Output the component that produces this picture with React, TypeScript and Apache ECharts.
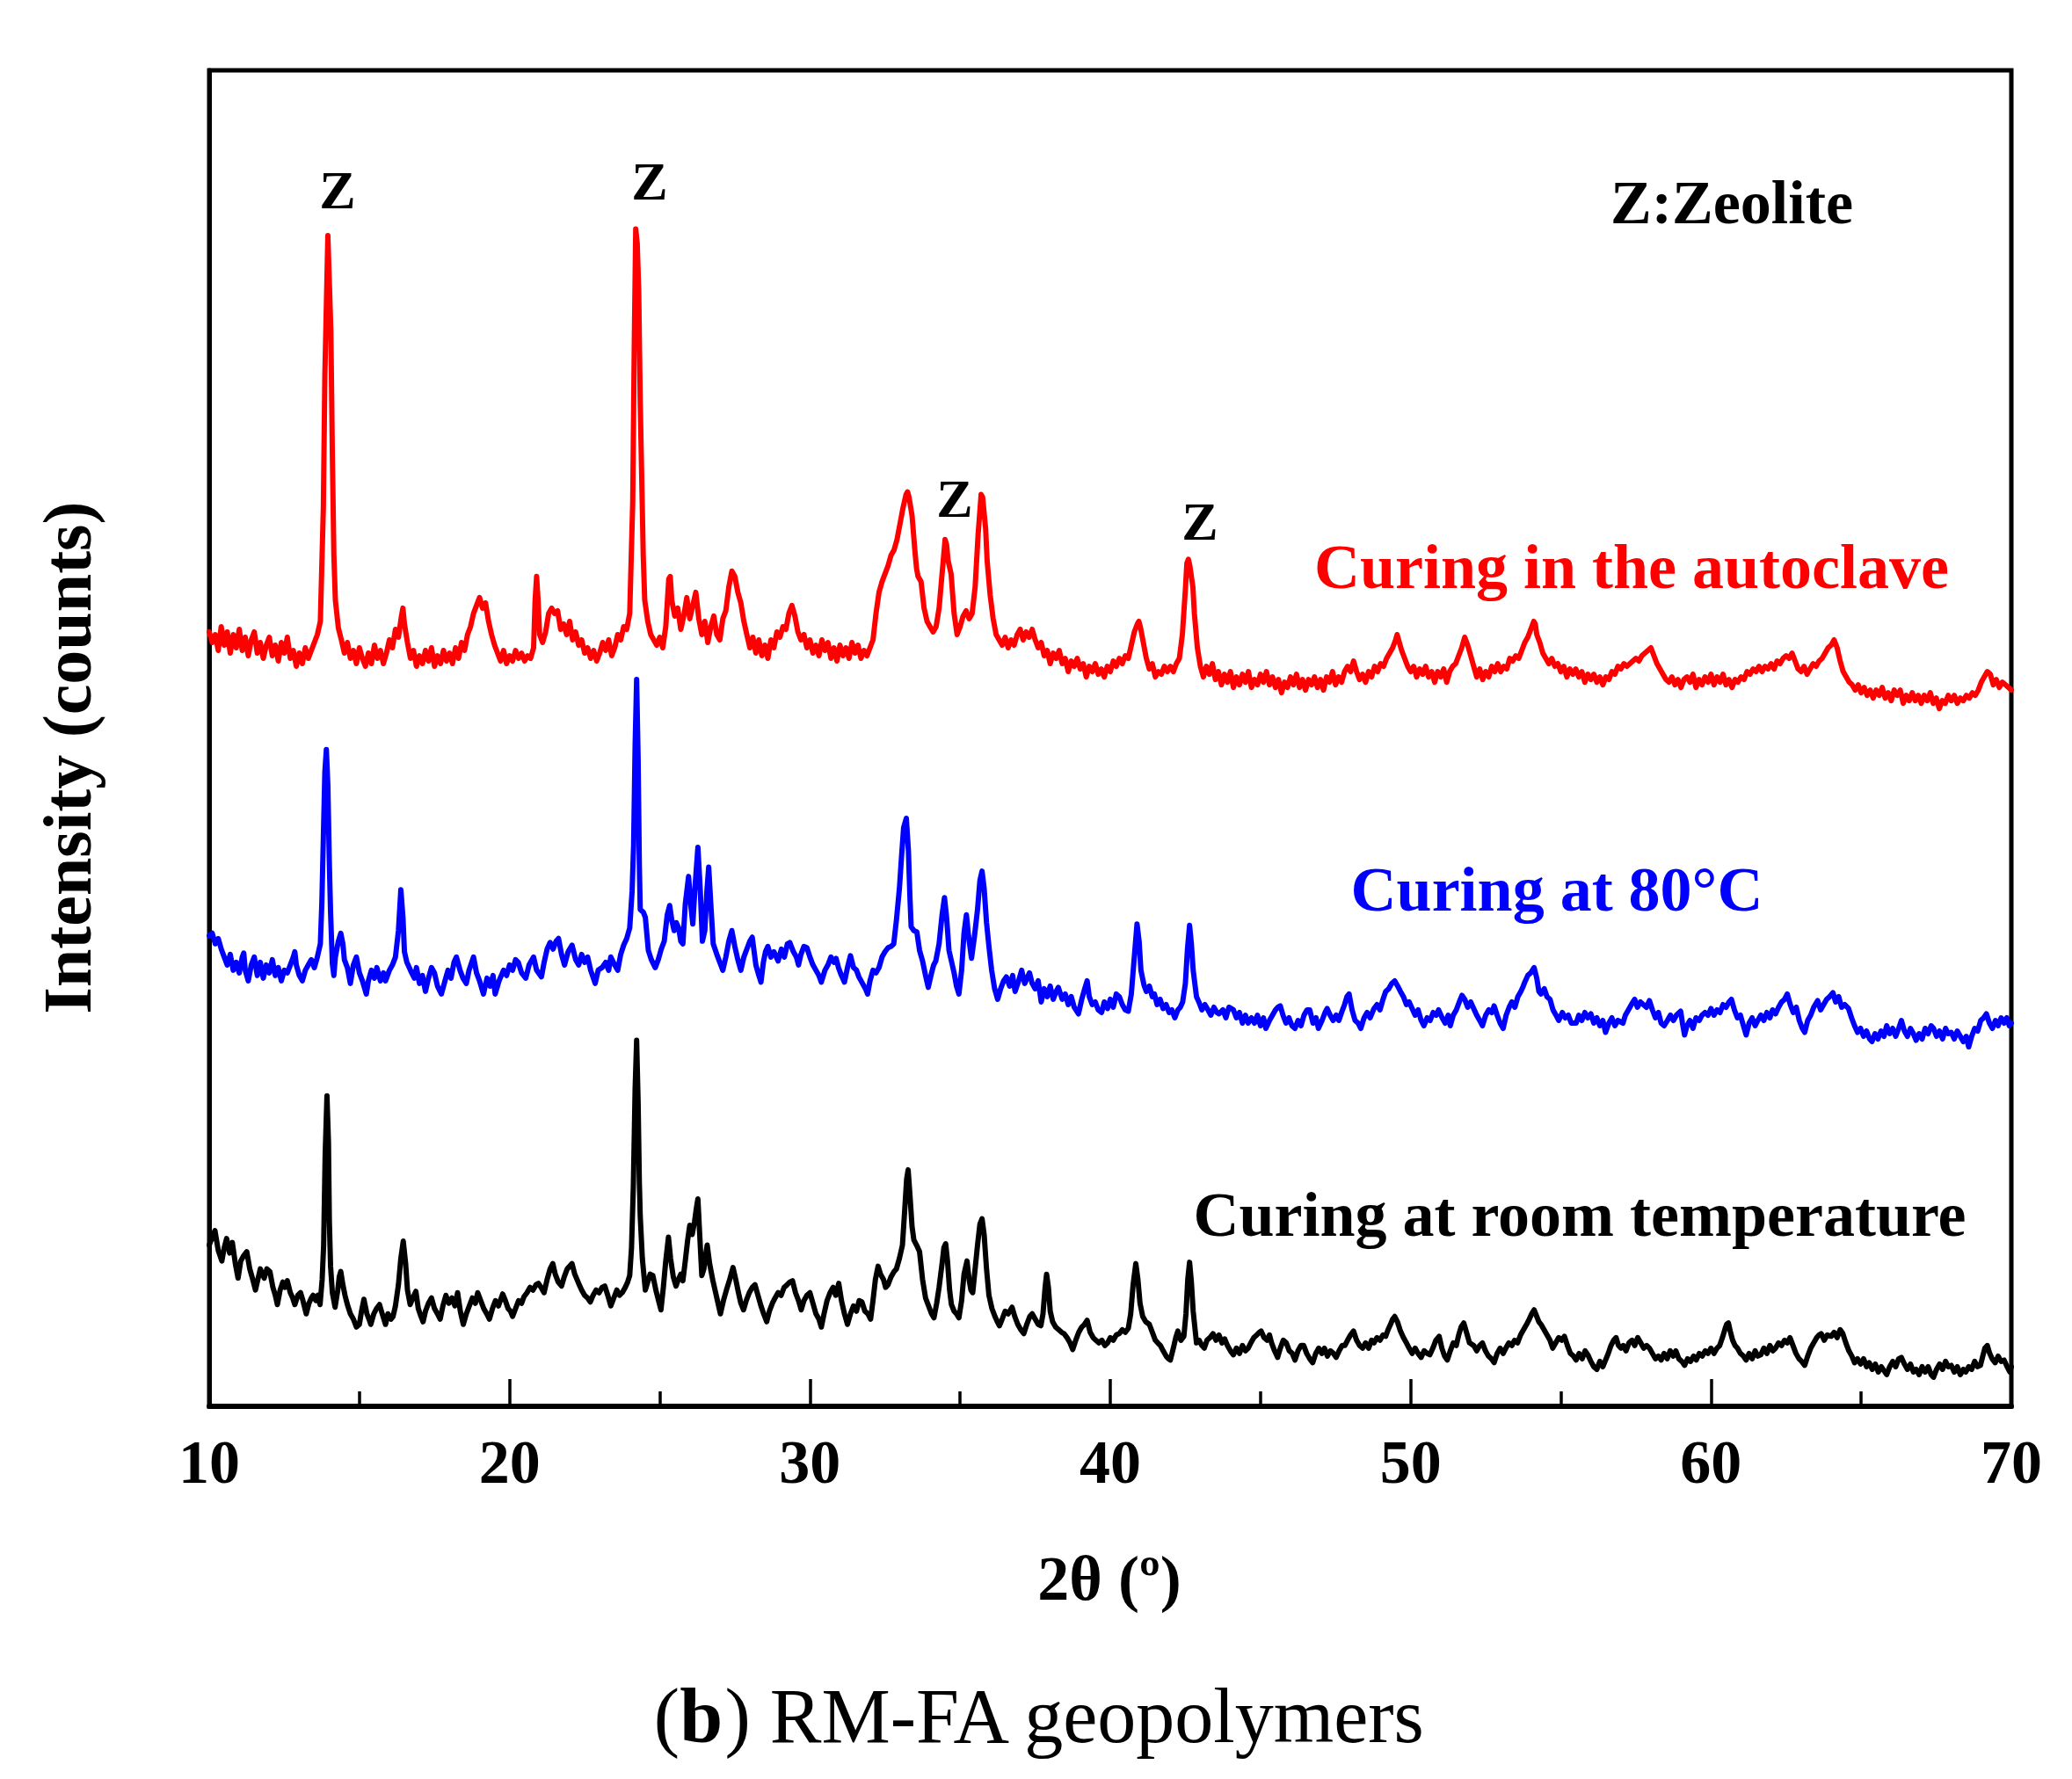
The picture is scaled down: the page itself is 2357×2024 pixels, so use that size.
import React, { useEffect, useRef } from "react";
import * as echarts from "echarts";

// 2θ (degrees) vs intensity (arbitrary units, traces stacked with offsets as in the figure)
const autoclave: [number, number][] = [
  [10.0,586],[10.1,578],[10.2,584],[10.3,572],[10.4,590],[10.5,576],[10.6,586],[10.7,570],[10.8,584],[10.9,574],
  [11.0,588],[11.1,572],[11.2,582],[11.3,568],[11.4,580],[11.5,586],[11.6,570],[11.7,578],[11.8,566],[11.9,576],
  [12.0,582],[12.1,568],[12.2,576],[12.3,564],[12.4,578],[12.5,570],[12.6,582],[12.7,566],[12.8,572],[12.9,560],
  [13.0,570],[13.1,562],[13.2,574],[13.3,566],[13.4,572],[13.5,578],[13.6,584],[13.7,594],[13.8,680],[13.85,780],
  [13.95,886],[14.05,814],[14.1,720],[14.15,644],[14.2,610],[14.3,589],[14.4,580],[14.5,570],[14.6,578],[14.7,566],
  [14.8,572],[14.9,562],[15.0,574],[15.1,566],[15.2,560],[15.3,570],[15.4,562],[15.5,576],[15.6,566],[15.7,572],
  [15.8,562],[15.9,570],[16.0,580],[16.1,574],[16.2,588],[16.3,582],[16.4,598],[16.45,604],[16.5,592],[16.6,578],
  [16.7,566],[16.8,572],[16.9,560],[17.0,568],[17.1,562],[17.2,572],[17.3,564],[17.4,574],[17.5,560],[17.6,568],
  [17.7,562],[17.8,572],[17.9,564],[18.0,570],[18.1,562],[18.2,574],[18.3,566],[18.4,578],[18.5,572],[18.6,584],
  [18.7,590],[18.8,600],[18.9,606],[19.0,612],[19.1,604],[19.2,608],[19.3,594],[19.4,584],[19.5,576],[19.6,570],
  [19.7,564],[19.8,572],[19.9,562],[20.0,568],[20.1,564],[20.2,572],[20.3,566],[20.4,570],[20.5,564],[20.6,568],
  [20.7,566],[20.8,574],[20.85,610],[20.9,628],[20.95,610],[21.0,584],[21.1,578],[21.2,586],[21.3,600],[21.4,604],
  [21.5,600],[21.6,602],[21.7,588],[21.8,592],[21.9,584],[22.0,594],[22.1,580],[22.2,586],[22.3,576],[22.4,580],
  [22.5,570],[22.6,574],[22.7,566],[22.8,572],[22.9,564],[23.0,570],[23.1,578],[23.2,572],[23.3,580],[23.4,568],
  [23.5,574],[23.6,584],[23.7,580],[23.8,590],[23.9,588],[24.0,600],[24.1,684],[24.15,800],[24.2,891],[24.25,880],
  [24.3,844],[24.35,760],[24.45,644],[24.5,610],[24.6,594],[24.7,584],[24.8,580],[24.9,576],[25.0,582],[25.1,574],
  [25.2,590],[25.3,626],[25.35,628],[25.4,610],[25.5,598],[25.6,604],[25.7,588],[25.8,598],[25.9,612],[26.0,596],
  [26.1,606],[26.2,616],[26.3,596],[26.4,584],[26.5,594],[26.6,578],[26.7,590],[26.8,598],[26.9,584],[27.0,580],
  [27.1,596],[27.2,602],[27.3,620],[27.4,632],[27.5,628],[27.6,616],[27.7,608],[27.8,594],[27.9,584],[28.0,574],
  [28.1,582],[28.2,570],[28.3,580],[28.4,568],[28.5,576],[28.6,566],[28.7,580],[28.8,574],[28.9,586],[29.0,582],
  [29.1,590],[29.2,588],[29.3,600],[29.4,606],[29.5,598],[29.6,586],[29.7,580],[29.8,584],[29.9,574],[30.0,580],
  [30.1,570],[30.2,576],[30.3,568],[30.4,580],[30.5,572],[30.6,578],[30.7,566],[30.8,574],[30.9,564],[31.0,576],
  [31.1,568],[31.2,574],[31.3,566],[31.4,578],[31.5,570],[31.6,576],[31.7,566],[31.8,572],[31.9,568],[32.0,574],
  [32.1,580],[32.2,600],[32.3,616],[32.4,624],[32.5,630],[32.6,636],[32.7,644],[32.8,648],[32.9,656],[33.0,668],
  [33.1,680],[33.2,690],[33.25,692],[33.3,688],[33.4,674],[33.5,646],[33.55,634],[33.6,628],[33.7,624],[33.8,604],
  [33.9,594],[34.0,590],[34.1,586],[34.2,590],[34.3,604],[34.4,630],[34.5,656],[34.55,652],[34.6,640],[34.7,630],
  [34.8,600],[34.9,584],[35.0,590],[35.1,598],[35.2,602],[35.3,596],[35.4,600],[35.5,620],[35.6,660],[35.7,690],
  [35.75,688],[35.85,664],[35.9,640],[36.0,614],[36.1,596],[36.2,584],[36.3,580],[36.4,576],[36.5,582],[36.6,574],
  [36.7,580],[36.8,576],[36.9,584],[37.0,588],[37.1,580],[37.2,586],[37.3,582],[37.4,588],[37.5,580],[37.6,574],
  [37.7,578],[37.8,568],[37.9,572],[38.0,562],[38.1,570],[38.2,566],[38.3,572],[38.4,562],[38.5,566],[38.6,556],
  [38.7,564],[38.8,560],[38.9,566],[39.0,558],[39.1,562],[39.2,552],[39.3,560],[39.4,556],[39.5,562],[39.6,554],
  [39.7,558],[39.8,552],[39.9,560],[40.0,556],[40.1,564],[40.2,560],[40.3,566],[40.4,562],[40.5,568],[40.6,566],
  [40.7,576],[40.8,586],[40.9,592],[40.95,594],[41.0,590],[41.1,578],[41.2,566],[41.3,558],[41.4,562],[41.5,552],
  [41.6,556],[41.7,554],[41.8,560],[41.9,556],[42.0,560],[42.1,556],[42.2,562],[42.3,566],[42.4,584],[42.5,618],
  [42.55,638],[42.6,641],[42.65,636],[42.75,620],[42.8,600],[42.9,574],[43.0,560],[43.1,552],[43.2,560],[43.3,554],
  [43.4,562],[43.5,550],[43.6,556],[43.7,546],[43.8,554],[43.9,548],[44.0,556],[44.1,544],[44.2,552],[44.3,546],
  [44.4,554],[44.5,548],[44.6,556],[44.7,544],[44.8,550],[44.9,546],[45.0,554],[45.1,548],[45.2,556],[45.3,546],
  [45.4,552],[45.5,544],[45.6,550],[45.7,540],[45.8,548],[45.9,544],[46.0,552],[46.1,546],[46.2,554],[46.3,544],
  [46.4,550],[46.5,542],[46.6,550],[46.7,546],[46.8,552],[46.9,544],[47.0,550],[47.1,542],[47.2,552],[47.3,548],
  [47.4,556],[47.5,546],[47.6,552],[47.7,548],[47.8,556],[47.9,560],[48.0,556],[48.1,564],[48.2,556],[48.3,550],
  [48.4,554],[48.5,548],[48.6,556],[48.7,552],[48.8,560],[48.9,556],[49.0,562],[49.1,560],[49.2,566],[49.3,570],
  [49.4,574],[49.5,580],[49.55,584],[49.6,580],[49.7,572],[49.8,566],[49.9,560],[50.0,556],[50.1,560],[50.2,552],
  [50.3,558],[50.4,554],[50.5,560],[50.6,552],[50.7,556],[50.8,548],[50.9,556],[51.0,552],[51.1,558],[51.2,548],
  [51.3,556],[51.4,560],[51.5,562],[51.6,568],[51.7,574],[51.8,582],[51.9,576],[52.0,568],[52.1,560],[52.2,552],
  [52.3,558],[52.4,550],[52.5,556],[52.6,552],[52.7,560],[52.8,556],[52.9,562],[53.0,556],[53.1,560],[53.2,558],
  [53.3,566],[53.4,564],[53.5,568],[53.6,566],[53.7,572],[53.8,578],[53.9,582],[54.0,588],[54.1,594],[54.15,592],
  [54.2,584],[54.3,578],[54.4,570],[54.5,566],[54.6,562],[54.7,566],[54.8,560],[54.9,562],[55.0,556],[55.1,560],
  [55.2,552],[55.3,558],[55.4,554],[55.5,558],[55.6,552],[55.7,556],[55.8,548],[55.9,554],[56.0,550],[56.1,554],
  [56.2,548],[56.3,552],[56.4,546],[56.5,552],[56.6,550],[56.7,556],[56.8,554],[56.9,560],[57.0,558],[57.1,562],
  [57.2,560],[57.3,562],[57.4,564],[57.5,566],[57.6,564],[57.7,568],[57.8,570],[57.9,572],[58.0,574],[58.1,568],
  [58.2,562],[58.3,558],[58.4,554],[58.5,550],[58.6,548],[58.7,552],[58.8,546],[58.9,550],[59.0,544],[59.1,550],
  [59.2,552],[59.3,548],[59.4,554],[59.5,544],[59.6,550],[59.7,546],[59.8,552],[59.9,548],[60.0,554],[60.1,546],
  [60.2,552],[60.3,548],[60.4,554],[60.5,546],[60.6,550],[60.7,544],[60.8,550],[60.9,548],[61.0,552],[61.1,550],
  [61.2,556],[61.3,554],[61.4,558],[61.5,556],[61.6,560],[61.7,556],[61.8,560],[61.9,558],[62.0,562],[62.1,558],
  [62.2,564],[62.3,562],[62.4,566],[62.5,568],[62.6,566],[62.7,570],[62.8,564],[62.9,558],[63.0,556],[63.1,560],
  [63.2,554],[63.3,558],[63.4,562],[63.5,560],[63.6,564],[63.7,566],[63.8,570],[63.9,574],[64.0,576],[64.1,580],
  [64.2,574],[64.3,564],[64.4,556],[64.5,552],[64.6,548],[64.7,546],[64.8,542],[64.9,546],[65.0,540],[65.1,544],
  [65.2,538],[65.3,542],[65.4,536],[65.5,542],[65.6,538],[65.7,544],[65.8,536],[65.9,540],[66.0,534],[66.1,542],
  [66.2,538],[66.3,542],[66.4,532],[66.5,538],[66.6,534],[66.7,540],[66.8,534],[66.9,538],[67.0,532],[67.1,538],
  [67.2,534],[67.3,540],[67.4,532],[67.5,536],[67.6,528],[67.7,534],[67.8,532],[67.9,538],[68.0,534],[68.1,538],
  [68.2,532],[68.3,536],[68.4,534],[68.5,538],[68.6,536],[68.7,540],[68.8,538],[68.9,542],[69.0,548],[69.1,552],
  [69.2,556],[69.3,554],[69.4,546],[69.5,550],[69.6,544],[69.7,548],[69.8,546],[69.9,544],[70.0,542],
];

const cured80: [number, number][] = [
  [10.0,356],[10.1,358],[10.2,350],[10.3,354],[10.4,346],[10.5,340],[10.6,334],[10.7,342],[10.8,330],[10.9,336],
  [11.0,328],[11.1,340],[11.15,343],[11.2,330],[11.3,322],[11.4,334],[11.5,340],[11.6,326],[11.7,336],[11.8,324],
  [11.9,334],[12.0,328],[12.1,338],[12.2,326],[12.3,332],[12.4,322],[12.5,330],[12.6,328],[12.7,334],[12.8,340],
  [12.85,344],[12.9,334],[13.0,326],[13.1,322],[13.2,330],[13.3,334],[13.4,338],[13.5,332],[13.6,340],[13.7,350],
  [13.75,381],[13.8,430],[13.85,480],[13.9,497],[13.95,470],[14.0,410],[14.04,374],[14.1,335],[14.15,326],[14.2,340],
  [14.3,352],[14.38,358],[14.45,350],[14.5,338],[14.6,332],[14.7,320],[14.8,334],[14.9,340],[15.0,328],[15.1,322],
  [15.23,312],[15.3,322],[15.4,330],[15.5,324],[15.58,332],[15.7,322],[15.8,328],[15.87,322],[16.0,330],[16.1,334],
  [16.2,340],[16.3,360],[16.38,391],[16.45,370],[16.5,344],[16.58,336],[16.7,330],[16.83,324],[16.9,332],[17.0,320],
  [17.1,326],[17.2,314],[17.3,324],[17.4,332],[17.5,328],[17.6,318],[17.73,312],[17.85,322],[17.95,330],[18.05,324],
  [18.15,336],[18.23,340],[18.35,330],[18.45,324],[18.56,320],[18.65,330],[18.8,340],[18.9,328],[19.0,322],[19.13,312],
  [19.25,324],[19.35,318],[19.45,326],[19.52,312],[19.65,322],[19.8,330],[19.9,326],[20.0,334],[20.1,330],[20.2,338],
  [20.29,336],[20.4,328],[20.54,324],[20.65,334],[20.8,340],[20.9,330],[21.06,325],[21.15,336],[21.25,346],[21.35,351],
  [21.45,346],[21.55,352],[21.63,354],[21.73,342],[21.83,334],[21.95,344],[22.08,349],[22.2,338],[22.3,334],[22.4,342],
  [22.5,336],[22.6,340],[22.7,330],[22.85,320],[22.95,330],[23.08,332],[23.2,336],[23.3,330],[23.37,340],[23.5,334],
  [23.6,330],[23.7,342],[23.8,349],[23.9,354],[24.0,362],[24.08,390],[24.13,425],[24.18,500],[24.23,550],[24.28,490],
  [24.32,410],[24.35,376],[24.45,374],[24.52,370],[24.62,345],[24.72,338],[24.85,332],[24.95,338],[25.05,346],[25.15,352],
  [25.25,372],[25.33,379],[25.4,368],[25.48,360],[25.55,366],[25.63,362],[25.7,352],[25.77,350],[25.85,380],[25.96,401],
  [26.03,380],[26.1,365],[26.18,395],[26.27,423],[26.35,390],[26.42,352],[26.5,360],[26.57,390],[26.63,408],[26.7,380],
  [26.78,350],[26.9,342],[27.0,336],[27.1,330],[27.2,340],[27.3,352],[27.4,360],[27.5,348],[27.6,338],[27.7,330],
  [27.8,340],[27.9,346],[28.0,352],[28.08,355],[28.2,334],[28.3,326],[28.37,321],[28.45,336],[28.52,344],[28.6,348],
  [28.7,340],[28.8,344],[28.94,337],[29.05,346],[29.15,340],[29.25,350],[29.33,351],[29.45,344],[29.55,340],[29.62,334],
  [29.7,342],[29.8,348],[29.9,347],[30.0,340],[30.1,334],[30.2,330],[30.3,326],[30.38,321],[30.5,330],[30.6,334],
  [30.7,340],[30.8,336],[30.87,339],[30.95,332],[31.05,326],[31.15,321],[31.25,332],[31.35,341],[31.45,332],[31.55,330],
  [31.63,325],[31.75,320],[31.85,316],[31.92,312],[32.0,322],[32.1,330],[32.2,328],[32.3,332],[32.4,340],[32.5,344],
  [32.6,347],[32.7,348],[32.79,350],[32.88,368],[32.98,392],[33.05,416],[33.12,438],[33.21,445],[33.28,420],[33.33,385],
  [33.37,363],[33.46,360],[33.56,359],[33.65,345],[33.75,337],[33.85,326],[33.94,317],[34.05,328],[34.12,334],[34.19,337],
  [34.3,350],[34.4,372],[34.48,385],[34.55,370],[34.63,345],[34.71,337],[34.8,328],[34.88,318],[34.96,312],[35.05,330],
  [35.13,358],[35.21,372],[35.28,356],[35.38,339],[35.48,356],[35.58,376],[35.66,398],[35.73,405],[35.8,392],[35.88,366],
  [35.96,348],[36.05,330],[36.15,316],[36.25,308],[36.35,316],[36.45,322],[36.54,325],[36.65,318],[36.75,326],[36.83,314],
  [36.95,322],[37.05,330],[37.15,320],[37.31,328],[37.4,320],[37.5,316],[37.6,322],[37.7,306],[37.8,316],[37.9,310],
  [38.0,318],[38.1,308],[38.2,314],[38.27,317],[38.4,308],[38.5,312],[38.6,304],[38.7,310],[38.8,302],[38.94,297],
  [39.05,308],[39.15,316],[39.23,322],[39.3,310],[39.4,304],[39.5,306],[39.6,300],[39.71,298],[39.8,306],[39.91,301],
  [40.0,308],[40.1,302],[40.2,312],[40.3,310],[40.4,304],[40.5,300],[40.6,299],[40.7,312],[40.8,340],[40.89,365],
  [40.96,352],[41.02,330],[41.12,319],[41.2,314],[41.3,318],[41.4,310],[41.47,312],[41.56,304],[41.66,308],[41.76,301],
  [41.86,304],[41.96,298],[42.05,300],[42.15,294],[42.25,300],[42.33,302],[42.41,306],[42.5,320],[42.57,346],[42.64,364],
  [42.7,350],[42.76,330],[42.87,310],[42.95,306],[43.05,300],[43.15,304],[43.23,301],[43.35,296],[43.45,302],[43.55,298],
  [43.62,297],[43.75,300],[43.85,294],[43.95,302],[44.1,300],[44.2,294],[44.3,298],[44.4,290],[44.5,296],[44.59,290],
  [44.7,294],[44.8,290],[44.9,296],[45.0,288],[45.1,294],[45.18,286],[45.3,292],[45.4,296],[45.5,300],[45.58,302],
  [45.66,303],[45.75,296],[45.85,290],[45.95,294],[46.05,288],[46.15,286],[46.25,292],[46.35,288],[46.45,296],[46.55,300],
  [46.64,300],[46.75,290],[46.85,294],[46.93,286],[47.05,292],[47.15,298],[47.22,301],[47.32,296],[47.42,292],[47.52,296],
  [47.61,292],[47.7,298],[47.8,304],[47.88,310],[47.95,312],[48.05,300],[48.15,292],[48.25,290],[48.34,286],[48.45,294],
  [48.55,298],[48.65,294],[48.78,301],[48.88,304],[48.98,300],[49.08,308],[49.17,314],[49.27,316],[49.37,320],[49.47,322],
  [49.57,318],[49.66,314],[49.76,310],[49.86,304],[49.95,306],[50.05,301],[50.15,296],[50.25,300],[50.35,292],[50.44,288],
  [50.55,294],[50.65,292],[50.75,298],[50.85,296],[50.93,300],[51.05,294],[51.15,290],[51.25,296],[51.32,288],[51.42,296],
  [51.52,300],[51.62,306],[51.71,311],[51.8,308],[51.9,302],[52.0,306],[52.1,301],[52.2,296],[52.3,292],[52.39,288],
  [52.5,296],[52.6,300],[52.7,298],[52.78,303],[52.88,296],[52.98,290],[53.08,286],[53.18,296],[53.28,302],[53.37,306],
  [53.47,302],[53.57,310],[53.67,314],[53.75,318],[53.8,321],[53.9,326],[54.0,328],[54.11,332],[54.2,324],[54.27,314],
  [54.34,312],[54.45,316],[54.54,310],[54.64,308],[54.74,300],[54.84,296],[54.93,292],[55.05,298],[55.15,294],[55.25,296],
  [55.35,290],[55.51,290],[55.6,296],[55.7,292],[55.8,298],[55.9,294],[56.0,297],[56.1,290],[56.2,294],[56.3,288],
  [56.4,292],[56.49,283],[56.6,290],[56.7,294],[56.8,288],[56.9,292],[57.07,290],[57.15,296],[57.25,300],[57.35,304],
  [57.46,308],[57.55,302],[57.65,306],[57.75,304],[57.85,302],[57.95,307],[58.05,300],[58.15,294],[58.25,298],[58.34,290],
  [58.44,288],[58.55,292],[58.65,296],[58.75,292],[58.85,296],[58.99,299],[59.05,290],[59.12,281],[59.2,288],[59.3,292],
  [59.4,286],[59.5,294],[59.61,292],[59.7,296],[59.8,298],[59.9,296],[60.0,301],[60.1,296],[60.2,300],[60.3,298],
  [60.4,304],[60.5,302],[60.6,306],[60.68,308],[60.78,300],[60.88,294],[60.98,296],[61.08,288],[61.17,281],[61.27,290],
  [61.37,294],[61.47,288],[61.56,292],[61.66,296],[61.76,292],[61.86,298],[61.96,294],[62.05,300],[62.15,297],[62.25,302],
  [62.35,306],[62.45,308],[62.54,312],[62.64,304],[62.74,298],[62.84,302],[62.94,292],[63.04,286],[63.12,283],[63.22,292],
  [63.32,296],[63.42,302],[63.55,307],[63.65,300],[63.75,304],[63.85,308],[63.95,310],[64.06,313],[64.15,306],[64.25,310],
  [64.35,302],[64.45,304],[64.58,301],[64.68,294],[64.78,288],[64.88,283],[64.98,286],[65.08,280],[65.18,284],[65.28,278],
  [65.36,276],[65.46,282],[65.56,278],[65.66,284],[65.76,280],[65.85,288],[65.95,282],[66.05,286],[66.15,280],[66.25,286],
  [66.34,292],[66.44,284],[66.54,280],[66.64,286],[66.74,282],[66.83,277],[66.93,282],[67.03,278],[67.13,286],[67.23,282],
  [67.33,288],[67.41,286],[67.51,280],[67.61,284],[67.71,278],[67.81,286],[67.9,282],[68.0,283],[68.1,278],[68.2,284],
  [68.3,280],[68.4,276],[68.5,280],[68.58,272],[68.68,280],[68.78,286],[68.88,284],[68.98,292],[69.08,294],[69.17,297],
  [69.27,290],[69.37,286],[69.47,292],[69.56,288],[69.66,294],[69.76,290],[69.85,294],[69.93,288],[70.0,290],
];

const roomTemp: [number, number][] = [
  [10.0,122],[10.1,128],[10.19,133],[10.3,118],[10.42,110],[10.5,120],[10.58,127],[10.68,116],[10.77,124],[10.87,108],
  [10.96,97],[11.05,110],[11.15,114],[11.25,117],[11.35,104],[11.45,96],[11.54,88],[11.62,96],[11.7,104],[11.83,97],
  [11.92,104],[12.02,102],[12.12,90],[12.2,84],[12.27,77],[12.36,88],[12.45,94],[12.52,90],[12.6,95],[12.7,86],
  [12.78,82],[12.85,77],[12.95,84],[13.04,86],[13.12,80],[13.23,70],[13.32,78],[13.4,82],[13.46,84],[13.55,80],
  [13.62,84],[13.69,77],[13.76,96],[13.81,122],[13.86,190],[13.92,235],[13.97,200],[14.0,140],[14.04,106],[14.1,86],
  [14.19,75],[14.28,88],[14.33,98],[14.38,102],[14.45,92],[14.52,84],[14.6,77],[14.7,70],[14.8,66],[14.9,60],
  [15.0,62],[15.07,72],[15.15,81],[15.25,70],[15.32,66],[15.38,62],[15.48,70],[15.57,74],[15.67,77],[15.76,70],
  [15.87,62],[15.95,70],[16.05,66],[16.12,68],[16.2,76],[16.3,92],[16.38,112],[16.46,125],[16.54,108],[16.6,88],
  [16.69,77],[16.78,82],[16.88,87],[16.96,74],[17.05,68],[17.12,64],[17.2,72],[17.3,78],[17.4,82],[17.5,74],
  [17.6,70],[17.69,66],[17.78,76],[17.88,84],[17.98,78],[18.08,82],[18.18,76],[18.27,86],[18.36,72],[18.46,62],
  [18.56,70],[18.66,76],[18.76,82],[18.86,78],[18.94,86],[19.04,80],[19.14,74],[19.24,70],[19.33,66],[19.43,74],
  [19.53,80],[19.63,76],[19.77,85],[19.86,80],[19.95,74],[20.03,72],[20.1,68],[20.2,74],[20.3,80],[20.4,78],
  [20.48,83],[20.58,86],[20.68,90],[20.78,88],[20.88,92],[20.96,93],[21.05,90],[21.15,86],[21.25,96],[21.35,104],
  [21.44,108],[21.52,100],[21.62,94],[21.73,91],[21.82,98],[21.92,104],[22.0,106],[22.08,108],[22.17,100],[22.3,93],
  [22.4,88],[22.5,84],[22.6,82],[22.69,79],[22.78,84],[22.88,88],[22.98,86],[23.08,90],[23.17,91],[23.27,84],
  [23.37,76],[23.47,82],[23.57,88],[23.66,84],[23.75,86],[23.85,90],[23.93,94],[24.0,99],[24.06,120],[24.12,166],
  [24.18,240],[24.23,277],[24.28,230],[24.32,170],[24.35,144],[24.42,112],[24.52,88],[24.6,94],[24.68,100],[24.77,99],
  [24.87,88],[24.96,80],[25.04,73],[25.12,90],[25.2,110],[25.29,128],[25.36,112],[25.45,98],[25.54,91],[25.62,96],
  [25.7,100],[25.77,95],[25.85,110],[25.93,126],[26.0,137],[26.08,130],[26.16,140],[26.22,150],[26.27,157],[26.33,130],
  [26.4,99],[26.47,104],[26.53,115],[26.58,122],[26.66,108],[26.77,95],[26.86,86],[26.94,78],[27.02,70],[27.12,80],
  [27.22,88],[27.33,96],[27.44,105],[27.53,96],[27.62,86],[27.7,78],[27.79,73],[27.88,80],[27.98,86],[28.08,90],
  [28.17,92],[28.27,84],[28.37,76],[28.46,70],[28.56,64],[28.65,72],[28.75,78],[28.84,82],[28.94,86],[29.04,84],
  [29.14,90],[29.24,92],[29.33,94],[29.42,95],[29.52,86],[29.62,80],[29.71,73],[29.8,80],[29.9,84],[30.0,86],
  [30.1,78],[30.2,70],[30.3,66],[30.38,60],[30.47,70],[30.57,80],[30.67,86],[30.77,90],[30.86,84],[30.96,93],
  [31.05,80],[31.15,70],[31.25,62],[31.35,70],[31.45,76],[31.55,72],[31.64,80],[31.73,79],[31.83,72],[31.93,70],
  [32.02,66],[32.1,80],[32.18,96],[32.27,106],[32.35,100],[32.45,96],[32.52,90],[32.6,92],[32.7,98],[32.8,102],
  [32.88,104],[32.98,112],[33.08,122],[33.16,150],[33.22,172],[33.27,179],[33.33,160],[33.4,136],[33.46,126],[33.55,122],
  [33.65,117],[33.75,96],[33.85,82],[33.95,76],[34.05,70],[34.13,67],[34.22,78],[34.3,90],[34.4,108],[34.46,120],
  [34.52,123],[34.58,110],[34.65,88],[34.71,77],[34.8,72],[34.88,70],[34.96,67],[35.05,80],[35.13,100],[35.23,110],
  [35.3,96],[35.36,88],[35.42,86],[35.5,104],[35.58,122],[35.66,138],[35.73,142],[35.8,130],[35.88,104],[35.96,84],
  [36.06,74],[36.16,68],[36.24,64],[36.31,61],[36.4,66],[36.5,72],[36.6,70],[36.73,75],[36.82,68],[36.92,62],
  [37.02,58],[37.12,55],[37.22,62],[37.32,68],[37.4,70],[37.5,66],[37.6,62],[37.69,61],[37.76,70],[37.83,90],
  [37.88,100],[37.94,90],[38.0,72],[38.08,64],[38.18,60],[38.28,58],[38.38,56],[38.46,55],[38.56,52],[38.66,48],
  [38.75,43],[38.85,50],[38.95,56],[39.05,60],[39.14,62],[39.23,65],[39.33,56],[39.43,52],[39.52,50],[39.62,48],
  [39.72,50],[39.82,46],[39.91,48],[40.0,52],[40.1,50],[40.2,54],[40.3,55],[40.4,58],[40.5,56],[40.6,59],
  [40.68,70],[40.76,92],[40.85,108],[40.92,96],[40.99,78],[41.08,68],[41.18,64],[41.3,62],[41.4,56],[41.5,50],
  [41.58,48],[41.67,46],[41.76,42],[41.86,38],[41.94,36],[42.0,35],[42.1,44],[42.18,52],[42.25,57],[42.35,50],
  [42.45,53],[42.52,70],[42.58,96],[42.64,109],[42.7,94],[42.76,72],[42.87,48],[42.96,50],[43.05,46],[43.13,44],
  [43.22,50],[43.32,52],[43.42,55],[43.52,50],[43.62,54],[43.72,48],[43.81,51],[43.9,46],[44.0,42],[44.1,39],
  [44.2,44],[44.3,40],[44.4,46],[44.5,42],[44.59,44],[44.68,48],[44.78,52],[44.88,54],[44.96,56],[45.02,57],
  [45.12,52],[45.22,50],[45.3,54],[45.37,48],[45.47,42],[45.57,37],[45.66,44],[45.76,50],[45.86,48],[45.96,42],
  [46.06,40],[46.15,35],[46.25,42],[46.35,46],[46.44,46],[46.54,40],[46.64,36],[46.74,33],[46.84,40],[46.94,44],
  [47.04,40],[47.13,44],[47.23,38],[47.33,42],[47.43,40],[47.52,37],[47.62,42],[47.72,46],[47.81,46],[47.9,50],
  [48.0,54],[48.1,57],[48.2,50],[48.3,46],[48.4,44],[48.5,48],[48.6,44],[48.7,50],[48.78,48],[48.88,52],
  [48.98,50],[49.08,54],[49.17,53],[49.25,58],[49.33,62],[49.4,66],[49.47,68],[49.56,64],[49.66,57],[49.76,52],
  [49.86,48],[49.95,44],[50.05,40],[50.15,44],[50.25,40],[50.35,37],[50.45,42],[50.55,40],[50.64,39],[50.74,44],
  [50.84,50],[50.95,53],[51.04,44],[51.13,38],[51.22,35],[51.32,42],[51.42,48],[51.52,46],[51.6,54],[51.68,60],
  [51.77,63],[51.86,56],[51.96,48],[52.1,46],[52.2,42],[52.3,46],[52.39,48],[52.49,42],[52.59,38],[52.69,36],
  [52.78,33],[52.88,40],[52.98,44],[53.08,40],[53.17,44],[53.27,48],[53.37,46],[53.46,50],[53.56,48],[53.66,54],
  [53.76,58],[53.86,62],[53.95,66],[54.03,70],[54.11,73],[54.2,68],[54.27,64],[54.34,62],[54.44,58],[54.54,54],
  [54.64,50],[54.73,44],[54.83,48],[54.93,52],[55.03,50],[55.12,53],[55.22,46],[55.32,40],[55.42,38],[55.51,35],
  [55.61,40],[55.71,36],[55.81,42],[55.9,39],[56.0,34],[56.1,30],[56.2,28],[56.3,34],[56.4,30],[56.49,35],
  [56.58,40],[56.67,46],[56.76,50],[56.84,52],[56.92,46],[57.0,44],[57.08,46],[57.17,42],[57.27,48],[57.37,50],
  [57.46,46],[57.56,52],[57.66,48],[57.76,44],[57.86,46],[57.95,44],[58.05,40],[58.15,36],[58.25,38],[58.34,35],
  [58.44,40],[58.54,36],[58.64,42],[58.74,38],[58.83,42],[58.93,36],[59.03,34],[59.12,31],[59.22,36],[59.32,34],
  [59.42,38],[59.51,35],[59.61,40],[59.71,38],[59.81,42],[59.9,40],[60.0,44],[60.1,40],[60.2,44],[60.29,46],
  [60.38,52],[60.46,58],[60.52,62],[60.58,63],[60.65,56],[60.72,50],[60.8,46],[60.88,44],[60.98,40],[61.08,38],
  [61.17,35],[61.27,40],[61.37,36],[61.47,42],[61.56,38],[61.66,39],[61.76,44],[61.86,40],[61.96,46],[62.06,42],
  [62.15,44],[62.25,48],[62.35,46],[62.45,50],[62.54,48],[62.63,52],[62.73,46],[62.83,40],[62.93,36],[63.02,34],
  [63.12,31],[63.22,38],[63.32,44],[63.42,48],[63.52,52],[63.6,54],[63.67,55],[63.77,50],[63.87,54],[64.0,53],
  [64.1,56],[64.2,52],[64.3,58],[64.39,55],[64.49,48],[64.59,42],[64.69,38],[64.78,33],[64.88,36],[64.98,32],
  [65.08,36],[65.18,30],[65.27,33],[65.37,28],[65.47,32],[65.57,26],[65.67,30],[65.76,27],[65.85,24],[65.95,30],
  [66.05,34],[66.15,30],[66.25,36],[66.34,37],[66.44,32],[66.54,28],[66.64,32],[66.74,26],[66.83,28],[66.93,24],
  [67.03,30],[67.13,26],[67.23,30],[67.33,24],[67.41,22],[67.51,28],[67.61,32],[67.71,28],[67.81,34],[67.9,30],
  [68.0,31],[68.1,26],[68.2,30],[68.3,24],[68.4,28],[68.48,26],[68.58,30],[68.68,28],[68.78,34],[68.88,30],
  [68.97,31],[69.05,38],[69.12,44],[69.2,46],[69.28,40],[69.36,36],[69.46,33],[69.56,38],[69.66,34],[69.76,35],
  [69.86,30],[69.95,26],[70.0,30],
];

const xTicks = [10, 20, 30, 40, 50, 60, 70];

const SERIF = "'Liberation Serif', 'Times New Roman', serif";

function txt(text: string, x: number, y: number, fontSize: number, fill: string, extra: any = {}) {
  return {
    type: "text",
    x,
    y,
    silent: true,
    ...extra,
    style: {
      text,
      fontSize,
      fontWeight: "bold",
      fontFamily: SERIF,
      fill,
      align: "center",
      verticalAlign: "middle",
      textAlign: "center",
      textVerticalAlign: "middle",
    },
  };
}

export default function App() {
  const ref = useRef<HTMLDivElement>(null);
  useEffect(() => {
    if (!ref.current) return;
    const chart = echarts.init(ref.current, undefined, { renderer: "svg" });
    const line = (name: string, data: [number, number][], color: string) => ({
      name,
      type: "line",
      data,
      showSymbol: false,
      symbol: "none",
      smooth: false,
      lineStyle: { color, width: 6, join: "round", cap: "round" },
      itemStyle: { color },
    });
    chart.setOption({
      animation: false,
      backgroundColor: "#ffffff",
      grid: {
        left: 238,
        right: 69,
        top: 80,
        bottom: 424,
        show: true,
        borderColor: "#000",
        borderWidth: 5,
        backgroundColor: "transparent",
      },
      xAxis: {
        type: "value",
        min: xTicks[0],
        max: xTicks[xTicks.length - 1],
        interval: 10,
        axisLine: { show: true, onZero: false, lineStyle: { color: "#000", width: 6 } },
        axisTick: { show: true, inside: true, length: 31, lineStyle: { color: "#000", width: 3.5 } },
        minorTick: { show: true, splitNumber: 2, length: 17, lineStyle: { color: "#000", width: 3.5 } },
        splitLine: { show: false },
        axisLabel: {
          show: true,
          margin: 28,
          color: "#000",
          fontSize: 70,
          lineHeight: 70,
          fontWeight: "bold",
          fontFamily: SERIF,
        },
      },
      yAxis: {
        type: "value",
        min: 0,
        max: 1011,
        axisLine: { show: true, lineStyle: { color: "#000", width: 5 } },
        axisTick: { show: false },
        axisLabel: { show: false },
        splitLine: { show: false },
      },
      series: [
        line("Curing in the autoclave", autoclave, "#ff0000"),
        line("Curing at 80°C", cured80, "#0000ff"),
        line("Curing at room temperature", roomTemp, "#000000"),
      ],
      graphic: [
        txt("Z", 384, 216, 62, "#000"),
        txt("Z", 739, 206, 62, "#000"),
        txt("Z", 1086, 567, 62, "#000"),
        txt("Z", 1365, 593, 62, "#000"),
        txt("Z:Zeolite", 1970, 230, 70, "#000"),
        txt("Curing in the autoclave", 1856, 645, 72, "#ff0000"),
        txt("Curing at 80°C", 1771, 1012, 72, "#0000ff"),
        txt("Curing at room temperature", 1797, 1382, 72, "#000"),
        txt("2θ (º)", 1262, 1796, 72, "#000"),
        txt("Intensity (counts)", 76, 862, 78, "#000", { rotation: Math.PI / 2 }),
        {
          type: "text",
          x: 1183,
          y: 1952,
          silent: true,
          style: {
            text: "({b|b}) RM-FA geopolymers",
            fontSize: 88,
            fontFamily: SERIF,
            fill: "#000",
            align: "center",
            verticalAlign: "middle",
            textAlign: "center",
            textVerticalAlign: "middle",
            rich: {
              b: { fontSize: 88, fontFamily: SERIF, fontWeight: "bold", fill: "#000", color: "#000" },
            },
          },
        },
      ],
    });
    return () => chart.dispose();
  }, []);
  return (
    <div
      ref={ref}
      style={{ position: "fixed", left: 0, top: 0, width: "2357px", height: "2024px", background: "#fff" }}
    />
  );
}
